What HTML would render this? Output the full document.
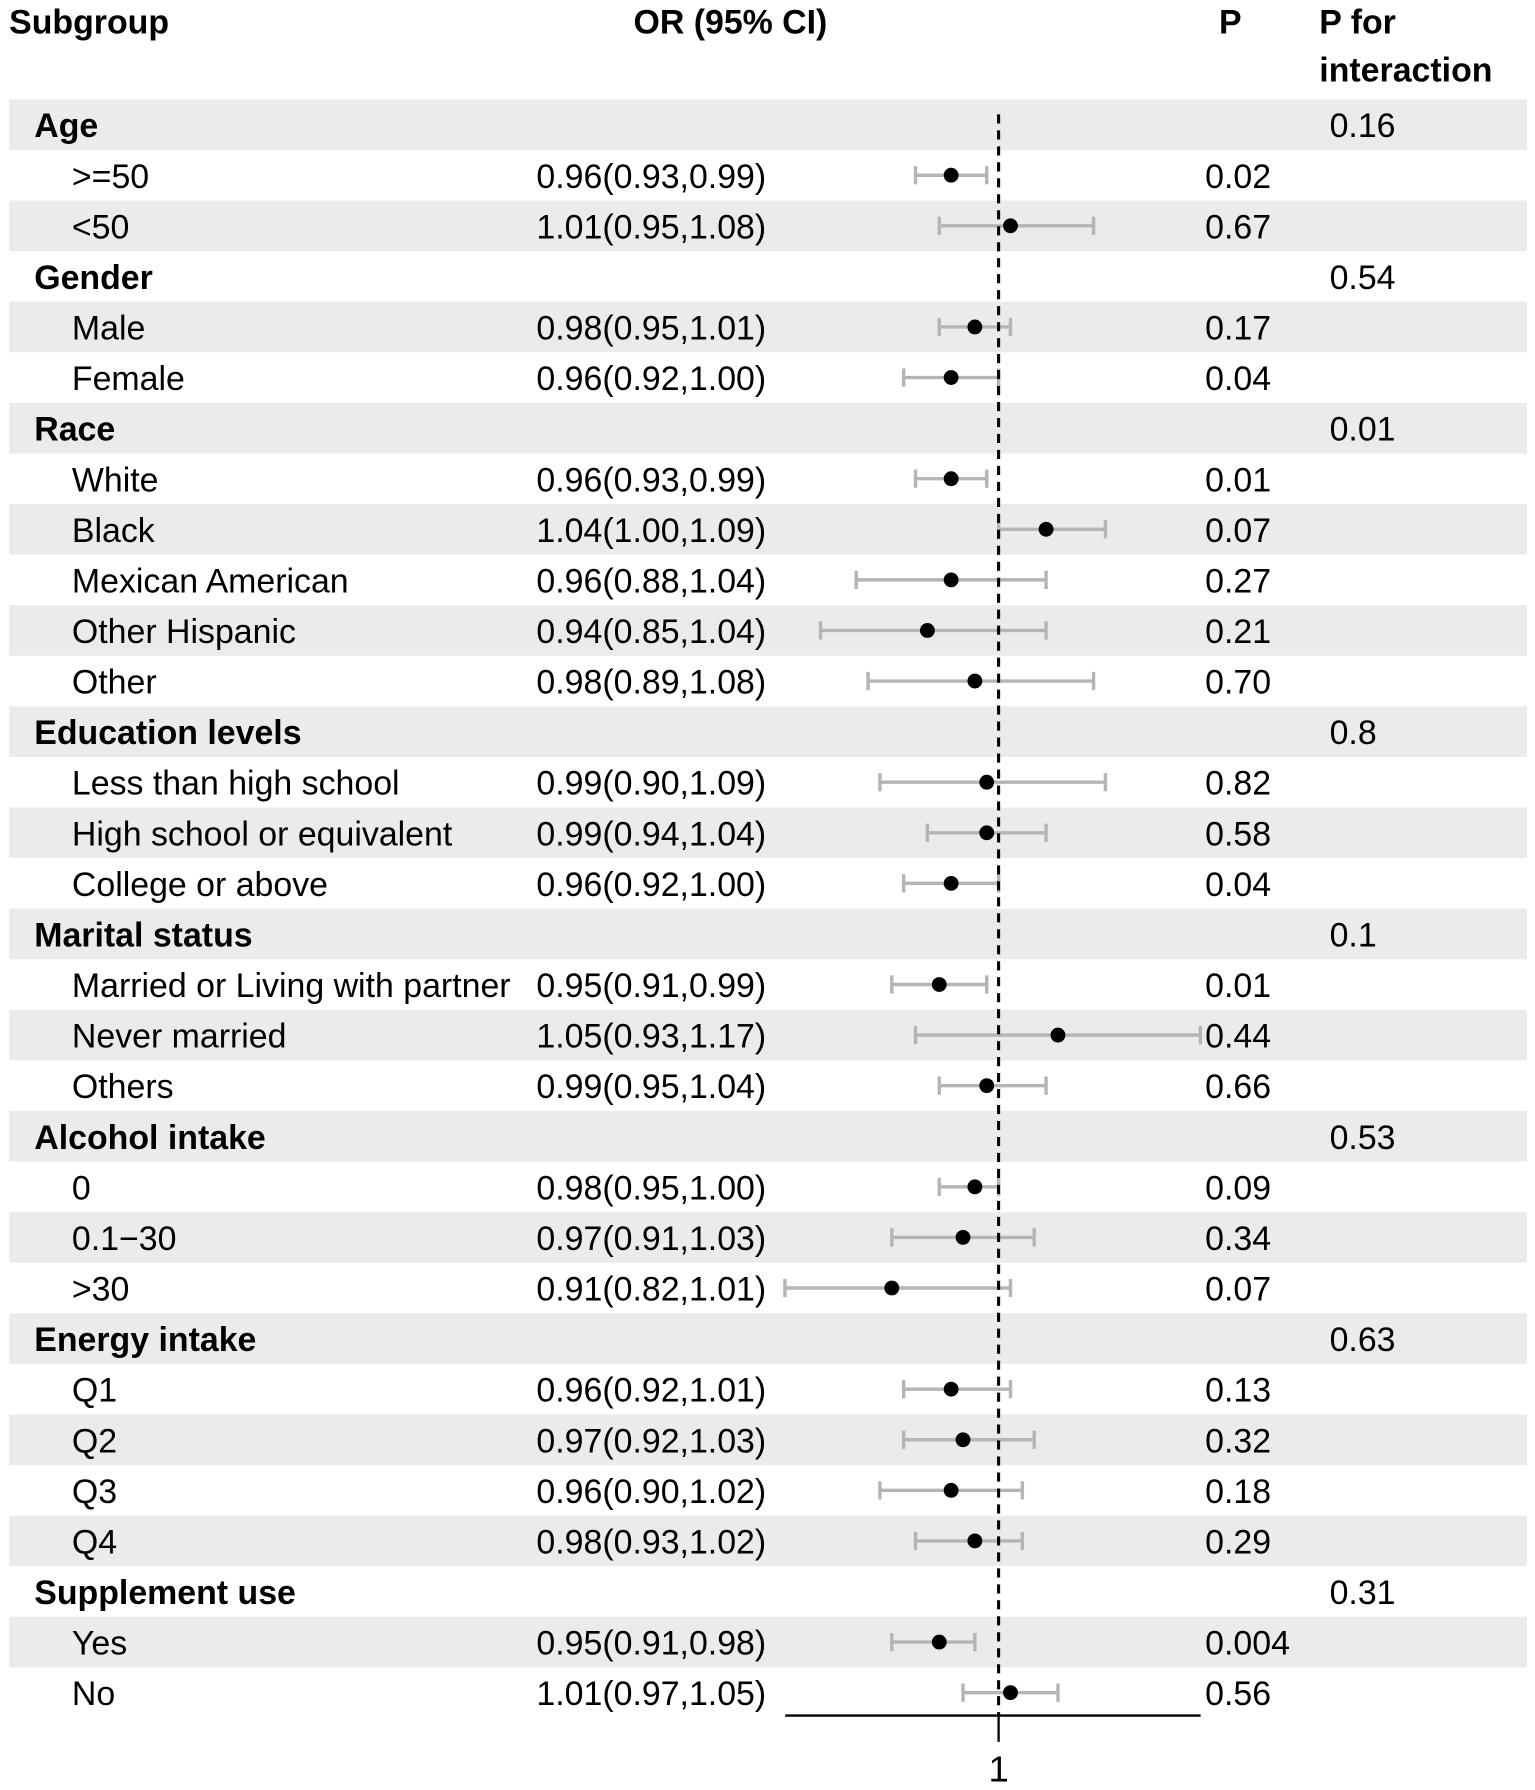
<!DOCTYPE html>
<html><head><meta charset="utf-8"><style>body{margin:0;background:#fff}svg{display:block}</style></head><body>
<svg id="s" width="1535" height="1790" viewBox="0 0 1345 1568" xmlns="http://www.w3.org/2000/svg" font-family="Liberation Sans, Arial, sans-serif">
<g font-size="29.7" font-weight="bold" fill="#000">
<text x="8" y="29">Subgroup</text>
<text x="640" y="29" text-anchor="middle">OR (95% CI)</text>
<text x="1078" y="29" text-anchor="middle">P</text>
<text x="1156" y="29">P for</text>
<text x="1156" y="71">interaction</text>
</g>
<g id="rows"></g>
<line x1="875" y1="100" x2="875" y2="1503" stroke="#000" stroke-width="2.7" stroke-dasharray="8,6"/>
<line x1="688" y1="1503" x2="1052" y2="1503" stroke="#000" stroke-width="2"/>
<line x1="875" y1="1503" x2="875" y2="1526" stroke="#000" stroke-width="2"/>
<text x="875" y="1561" font-size="32" text-anchor="middle">1</text>
</svg>
<script>
var d=[["Age",1,"0.16"],[">=50",0,0.96,0.93,0.99,"0.02"],["<50",0,1.01,0.95,1.08,"0.67"],
["Gender",1,"0.54"],["Male",0,0.98,0.95,1.01,"0.17"],["Female",0,0.96,0.92,1.00,"0.04"],
["Race",1,"0.01"],["White",0,0.96,0.93,0.99,"0.01"],["Black",0,1.04,1.00,1.09,"0.07"],["Mexican American",0,0.96,0.88,1.04,"0.27"],["Other Hispanic",0,0.94,0.85,1.04,"0.21"],["Other",0,0.98,0.89,1.08,"0.70"],
["Education levels",1,"0.8"],["Less than high school",0,0.99,0.90,1.09,"0.82"],["High school or equivalent",0,0.99,0.94,1.04,"0.58"],["College or above",0,0.96,0.92,1.00,"0.04"],
["Marital status",1,"0.1"],["Married or Living with partner",0,0.95,0.91,0.99,"0.01"],["Never married",0,1.05,0.93,1.17,"0.44"],["Others",0,0.99,0.95,1.04,"0.66"],
["Alcohol intake",1,"0.53"],["0",0,0.98,0.95,1.00,"0.09"],["0.1\u221230",0,0.97,0.91,1.03,"0.34"],[">30",0,0.91,0.82,1.01,"0.07"],
["Energy intake",1,"0.63"],["Q1",0,0.96,0.92,1.01,"0.13"],["Q2",0,0.97,0.92,1.03,"0.32"],["Q3",0,0.96,0.90,1.02,"0.18"],["Q4",0,0.98,0.93,1.02,"0.29"],
["Supplement use",1,"0.31"],["Yes",0,0.95,0.91,0.98,"0.004"],["No",0,1.01,0.97,1.05,"0.56"]];
var h="",X=function(v){return 875+(v-1)*1040};
function f(v){return v.toFixed(2)}
function e(s){return s.replace(/</g,"&lt;").replace(/>/g,"&gt;")}
d.forEach(function(r,i){var y=109+i*44.32;
if(i%2==0)h+='<rect x="8" y="'+(y-22.16)+'" width="1330" height="44.32" fill="#ebebeb"/>';
var ty=y+11;
if(r[1]){h+='<text x="30" y="'+ty+'" font-size="29.7" font-weight="bold">'+e(r[0])+'</text><text x="1165" y="'+ty+'" font-size="29.7">'+r[2]+'</text>';}
else{var a=X(r[3]),b=X(r[4]);
h+='<text x="63" y="'+ty+'" font-size="29.7">'+e(r[0])+'</text>';
h+='<text x="470" y="'+ty+'" font-size="29.7">'+f(r[2])+'('+f(r[3])+','+f(r[4])+')</text>';
h+='<text x="1056" y="'+ty+'" font-size="29.7">'+r[5]+'</text>';
h+='<g stroke="#b5b5b5" stroke-width="3"><line x1="'+a+'" y1="'+y+'" x2="'+b+'" y2="'+y+'"/><line x1="'+a+'" y1="'+(y-8)+'" x2="'+a+'" y2="'+(y+8)+'"/><line x1="'+b+'" y1="'+(y-8)+'" x2="'+b+'" y2="'+(y+8)+'"/></g>';
h+='<circle cx="'+X(r[2])+'" cy="'+y+'" r="6.5" fill="#000"/>';}
});
document.getElementById("rows").innerHTML=h;
</script>
</body></html>
